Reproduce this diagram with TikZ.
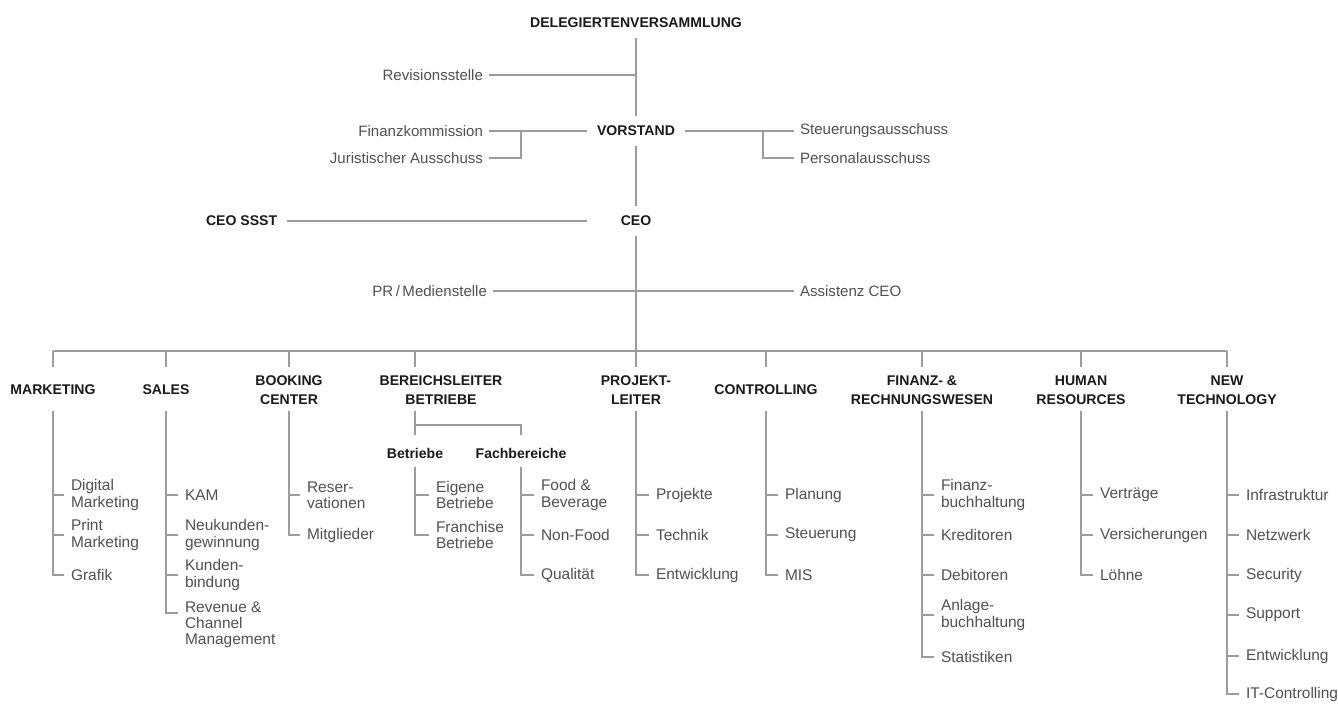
\documentclass[tikz,border=0pt]{standalone}
\usepackage{fontspec}
\setmainfont{Liberation Sans}
\usetikzlibrary{calc}

\definecolor{linegray}{HTML}{9C9C9C}
\definecolor{inkgray}{HTML}{505050}
\definecolor{inkblack}{HTML}{1A1A1A}

\newcommand\headfnt{\fontsize{10}{13.5}\selectfont\bfseries}
\newcommand\sidefnt{\fontsize{10.7}{12}\selectfont}
\newcommand\itemfnt{\fontsize{11}{11.4}\selectfont}

\tikzset{
  conn/.style={draw=linegray, line width=1.4pt},
  head/.style={font=\headfnt, text=inkblack, align=center, inner sep=0pt},
  boss/.style={head, outer sep=7pt},
  side/.style={font=\sidefnt, text=inkgray, inner sep=0pt, outer sep=4.3pt},
  item/.style={font=\itemfnt, text=inkgray, align=left, inner sep=0pt, outer sep=5pt, anchor=west},
}

\begin{document}
\begin{tikzpicture}[x=0.025cm, y=-0.025cm]
		%%%%% START %%%%%
		\useasboundingbox (0,0) rectangle (1338,704);
		
		% top of the tree
		\node[boss] (dv) at (636,23) {DELEGIERTENVERSAMMLUNG};
		\node[boss] (vor) at (636,131) {VORSTAND};
		\node[boss] (ceo) at (636,221) {CEO};
		\node[boss, anchor=east] (ssst) at (287,221) {CEO SSST};
		
		\node[side, anchor=east] (rev) at (489,75) {Revisionsstelle};
		\node[side, anchor=east] (fin) at (489,131) {Finanzkommission};
		\node[side, anchor=east] (jur) at (489,158) {Juristischer Ausschuss};
		\node[side, anchor=west] (steu) at (794,131) {Steuerungsausschuss};
		\node[side, anchor=west] (pers) at (794,158) {Personalausschuss};
		\node[side, anchor=east] (pr) at (493,291) {PR\,/\,Medienstelle};
		\node[side, anchor=west] (ass) at (794,291) {Assistenz CEO};
		
		\coordinate (jf) at (521,131);
		\coordinate (sp) at (763,131);
		\coordinate (bus) at (636,351);
		\coordinate (drop) at (0,367);
		\coordinate (hb) at (0,411);
		\coordinate (sj) at (0,425);
		\coordinate (sb) at (0,435);
		\coordinate (st) at (0,467);
		
		\draw[conn] (dv) -- (vor);
		\draw[conn] (rev) -- (rev -| dv);
		\draw[conn] (fin) -- (vor);
		\draw[conn] (jur) -| (jf);
		\draw[conn] (vor) -- (steu);
		\draw[conn] (pers) -| (sp);
		\draw[conn] (vor) -- (ceo);
		\draw[conn] (ssst) -- (ssst -| vor.west);
		\draw[conn] (pr) -- (ass);
		\draw[conn] (ceo) -- (bus);
		
		% departments
		\node[head] (mkt) at (53,390) {MARKETING};
		\node[head] (sal) at (166,390) {SALES};
		\node[head] (bkc) at (289,390) {BOOKING\\CENTER};
		\node[head] (bl) at (441,390) {BEREICHSLEITER\\BETRIEBE};
		\node[head] (pl) at (636,390) {PROJEKT-\\LEITER};
		\node[head] (ctr) at (766,390) {CONTROLLING};
		\node[head] (fr) at (922,390) {FINANZ- \&\\RECHNUNGSWESEN};
		\node[head] (hr) at (1081,390) {HUMAN\\RESOURCES};
		\node[head] (nt) at (1227,390) {NEW\\TECHNOLOGY};
		\node[head] (bet) at (415,453) {Betriebe};
		\node[head] (fach) at (521,453) {Fachbereiche};
		
		\draw[conn] (mkt |- bus) -- (nt |- bus);
		\foreach \d in {mkt,sal,bkc,bet,pl,ctr,fr,hr,nt}
			\draw[conn] (\d |- bus) -- (\d |- drop);
		
		% marketing
		\node[item] (dm) at (64,495) {Digital\\Marketing};
		\node[item] (pm) at (64,535) {Print\\Marketing};
		\node[item] (gr) at (64,575) {Grafik};
		\draw[conn] (mkt |- hb) |- (gr);
		\draw[conn] (mkt |- dm) -- (dm);
		\draw[conn] (mkt |- pm) -- (pm);
		
		% sales
		\node[item] (kam) at (178,495) {KAM};
		\node[item] (neu) at (178,535) {Neukunden-\\gewinnung};
		\node[item] (kb) at (178,575) {Kunden-\\bindung};
		\node[item, anchor=north west] (rcm) at (178,595) {Revenue \&\\Channel\\Management};
		\coordinate (rcmt) at (178,613);
		\draw[conn] (sal |- hb) |- (rcmt);
		\draw[conn] (sal |- kam) -- (kam);
		\draw[conn] (sal |- neu) -- (neu);
		\draw[conn] (sal |- kb) -- (kb);
		
		% booking center
		\node[item] (res) at (300,495) {Reser-\\vationen};
		\node[item] (mit) at (300,535) {Mitglieder};
		\draw[conn] (bkc |- hb) |- (mit);
		\draw[conn] (bkc |- res) -- (res);
		
		% bereichsleiter betriebe
		\draw[conn] (bet |- hb) -- (bet |- sb);
		\draw[conn] (bet |- sj) -| (fach |- sb);
		\node[item] (eb) at (429,495) {Eigene\\Betriebe};
		\node[item] (fb) at (429,535) {Franchise\\Betriebe};
		\draw[conn] (bet |- st) |- (fb);
		\draw[conn] (bet |- eb) -- (eb);
		\node[item] (fbv) at (534,495) {Food \&\\Beverage};
		\node[item] (nf) at (534,535) {Non-Food};
		\node[item] (qu) at (534,575) {Qualität};
		\draw[conn] (fach |- st) |- (qu);
		\draw[conn] (fach |- fbv) -- (fbv);
		\draw[conn] (fach |- nf) -- (nf);
		
		% projektleiter
		\node[item] (prj) at (649,495) {Projekte};
		\node[item] (tec) at (649,535) {Technik};
		\node[item] (ent) at (649,575) {Entwicklung};
		\draw[conn] (pl |- hb) |- (ent);
		\draw[conn] (pl |- prj) -- (prj);
		\draw[conn] (pl |- tec) -- (tec);
		
		% controlling
		\node[item] (pla) at (778,495) {Planung};
		\node[item] (ste) at (778,535) {Steuerung};
		\node[item] (mis) at (778,575) {MIS};
		\draw[conn] (ctr |- hb) |- (mis);
		\draw[conn] (ctr |- pla) -- (pla);
		\draw[conn] (ctr |- ste) -- (ste);
		
		% finanz- & rechnungswesen
		\node[item] (fbh) at (934,495) {Finanz-\\buchhaltung};
		\node[item] (kre) at (934,535) {Kreditoren};
		\node[item] (deb) at (934,575) {Debitoren};
		\node[item] (abh) at (934,615) {Anlage-\\buchhaltung};
		\node[item] (sta) at (934,657) {Statistiken};
		\draw[conn] (fr |- hb) |- (sta);
		\draw[conn] (fr |- fbh) -- (fbh);
		\draw[conn] (fr |- kre) -- (kre);
		\draw[conn] (fr |- deb) -- (deb);
		\draw[conn] (fr |- abh) -- (abh);
		
		% human resources
		\node[item] (ver) at (1093,495) {Verträge};
		\node[item] (vsi) at (1093,535) {Versicherungen};
		\node[item] (loe) at (1093,575) {Löhne};
		\draw[conn] (hr |- hb) |- (loe);
		\draw[conn] (hr |- ver) -- (ver);
		\draw[conn] (hr |- vsi) -- (vsi);
		
		% new technology
		\node[item] (inf) at (1239,495) {Infrastruktur};
		\node[item] (net) at (1239,535) {Netzwerk};
		\node[item] (sec) at (1239,575) {Security};
		\node[item] (sup) at (1239,615) {Support};
		\node[item] (itent) at (1239,656) {Entwicklung};
		\node[item] (itc) at (1239,694) {IT-Controlling};
		\draw[conn] (nt |- hb) |- (itc);
		\draw[conn] (nt |- inf) -- (inf);
		\draw[conn] (nt |- net) -- (net);
		\draw[conn] (nt |- sec) -- (sec);
		\draw[conn] (nt |- sup) -- (sup);
		\draw[conn] (nt |- itent) -- (itent);
		
		%%%%% END %%%%%
\end{tikzpicture}
\end{document}
